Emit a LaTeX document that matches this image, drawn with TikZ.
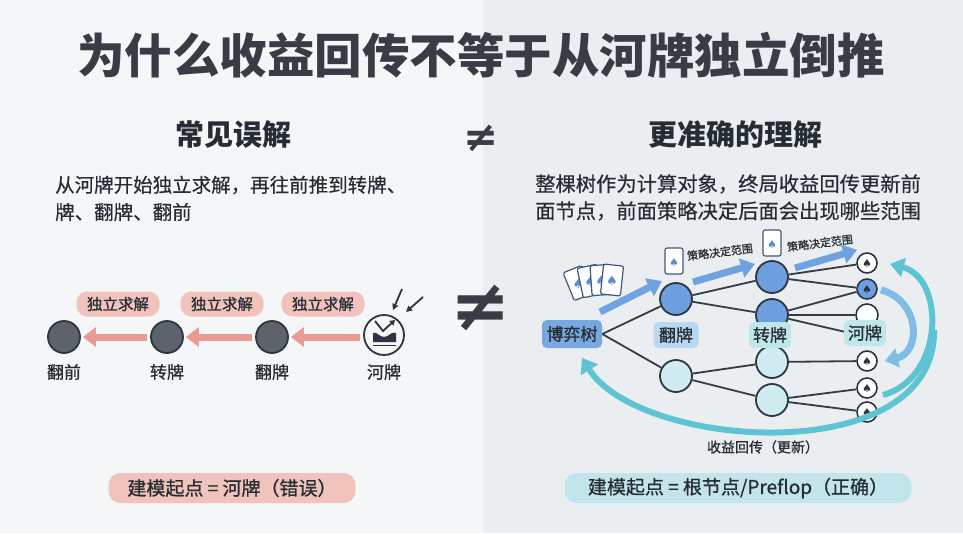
\documentclass[tikz,border=0pt]{standalone}
\usepackage{fontspec}
\setmainfont{Noto Sans CJK SC}
\newfontfamily\medf{Noto Sans CJK SC}[FakeBold=0.9]
\newfontfamily\descf{Noto Sans CJK SC}[FakeBold=0.4]
\newfontfamily\symf{DejaVu Sans}
\usetikzlibrary{arrows.meta}
\pgfdeclarelayer{bglayer}
\pgfdeclarelayer{edgelayer}
\pgfsetlayers{bglayer,edgelayer,main}
\definecolor{bgL}{HTML}{F4F6F8}
\definecolor{bgR}{HTML}{EBEEF1}
\definecolor{titlec}{HTML}{383D45}
\definecolor{textc}{HTML}{262C33}
\definecolor{salmon}{HTML}{E99A91}
\definecolor{pinkpill}{HTML}{F2C3BD}
\definecolor{darknode}{HTML}{5D626B}
\definecolor{nodeline}{HTML}{2C3540}
\definecolor{edgec}{HTML}{353B43}
\definecolor{bluenode}{HTML}{6C9FDD}
\definecolor{cyannode}{HTML}{CFEDF0}
\definecolor{rootc}{HTML}{77A8DF}
\definecolor{flopc}{HTML}{B9D7F1}
\definecolor{turnc}{HTML}{BFE7EA}
\definecolor{cyanpill}{HTML}{C2E5EC}
\definecolor{arrowblue}{HTML}{6FA3E0}
\definecolor{midblue}{HTML}{7FBCE6}
\definecolor{teal}{HTML}{5EC3D3}
\definecolor{cardline}{HTML}{3F5878}
\definecolor{spadeb}{HTML}{5B8FD0}
\tikzset{
  edge/.style={draw=edgec, line width=1.8pt},
  tnode/.style={circle, draw=nodeline, line width=1.8pt, minimum size=32pt, inner sep=0pt},
  dnode/.style={circle, draw=nodeline, line width=1.8pt, minimum size=32pt, inner sep=0pt, fill=darknode},
  rnode/.style={circle, draw=nodeline, line width=1.6pt, minimum size=20pt, inner sep=0pt, fill=white, text=nodeline, font=\symf\fontsize{11}{11}\selectfont},
  lbl/.style={rounded corners=5pt, inner xsep=4pt, inner ysep=3pt, font=\medf\fontsize{17}{17}\selectfont, text=textc},
  sublbl/.style={font=\medf\fontsize{17}{17}\selectfont, text=textc},
  solvepill/.style={fill=pinkpill, rounded corners=11pt, minimum width=83pt, minimum height=25pt, inner sep=0pt, font=\medf\fontsize{15.5}{15.5}\selectfont, text=textc},
  bottompill/.style={rounded corners=12pt, minimum height=30pt, inner sep=0pt, font=\medf\fontsize{19}{19}\selectfont, text=textc},
  salmonarrow/.style={draw=salmon, line width=7pt, -{Triangle[length=13pt,width=19pt]}},
  fatblue/.style={draw=arrowblue, line width=7pt, -{Triangle[length=14pt,width=19pt]}},
  desc/.style={anchor=west, font=\descf\fontsize{19.5}{19.5}\selectfont, text=textc, inner sep=0pt},
  card/.pic={
    \draw[fill=white, draw=cardline, line width=1.2pt, rounded corners=2pt] (-10,-15) rectangle (10,15);
    \node[text=spadeb, font=\symf\fontsize{13}{13}\selectfont] at (0,1) {♠};
  },
  smallcard/.pic={
    \draw[fill=white, draw=cardline, line width=1.1pt, rounded corners=2pt] (-9,-13) rectangle (9,13);
    \node[text=spadeb, font=\symf\fontsize{11}{11}\selectfont] at (0,1) {♠};
  }
}
\begin{document}
\begin{tikzpicture}[x=1pt,y=-1pt]
\useasboundingbox (0,0) rectangle (963,533);
\begin{pgfonlayer}{bglayer}
\fill[bgL] (0,0) rectangle (483,533);
\fill[bgR] (483,0) rectangle (963,533);
\end{pgfonlayer}

% title and headers
\node[text=titlec, font=\fontsize{47.5}{47.5}\selectfont\bfseries] (title) at (481,55) {为什么收益回传不等于从河牌独立倒推};
\node[text=textc, font=\fontsize{29}{29}\selectfont\bfseries] (hl) at (233,135) {常见误解};
\node[text=textc, font=\fontsize{29}{29}\selectfont\bfseries] (hr) at (735,135) {更准确的理解};
\node[text=titlec, font=\symf\bfseries\fontsize{42}{42}\selectfont] (ne1) at (481,138) {≠};
\node[text=titlec, font=\symf\bfseries\fontsize{72}{72}\selectfont] (ne2) at (481,308) {≠};

\node[desc] (dl1) at (55,185) {从河牌开始独立求解，再往前推到转牌、};
\node[desc] (dl2) at (55,212) {牌、翻牌、翻前};
\node[desc, font=\descf\fontsize{20.3}{20.3}\selectfont] (dr1) at (535,184) {整棵树作为计算对象，终局收益回传更新前};
\node[desc, font=\descf\fontsize{20.3}{20.3}\selectfont] (dr2) at (535,211) {面节点，前面策略决定后面会出现哪些范围};

% ---------- left chain ----------
\node[dnode] (c1) at (64,337) {};
\node[dnode] (c2) at (167,337) {};
\node[dnode] (c3) at (272,337) {};
\node[circle, draw=nodeline, line width=1.8pt, minimum size=40pt, inner sep=0pt, fill=bgL] (c4) at (384,335) {};
% river icon inside
\fill[nodeline] (373,342) -- (373,333) .. controls (377,331) and (379,337) .. (384,337) .. controls (389,337) and (391,331) .. (396,333) -- (396,342) -- cycle;
\draw[nodeline, line width=1.5pt] (373,345.5) -- (396,345.5);
\draw[nodeline, line width=1.8pt, -{Triangle[length=5pt,width=6pt]}] (375,321) -- (383,331) -- (395,320);
\coordinate (a1s) at (402,289);
\coordinate (a1e) at (393,310);
\coordinate (a2s) at (423,297);
\coordinate (a2e) at (406,312);
\draw[nodeline, line width=1.8pt, -{Triangle[length=6pt,width=6pt]}] (a1s) -- (a1e);
\draw[nodeline, line width=1.8pt, -{Triangle[length=6pt,width=6pt]}] (a2s) -- (a2e);

\draw[salmonarrow, shorten <=3pt, shorten >=2pt] (c4.west |- c3) -- (c3);
\draw[salmonarrow, shorten <=3pt, shorten >=2pt] (c3) -- (c2);
\draw[salmonarrow, shorten <=3pt, shorten >=2pt] (c2) -- (c1);

\node[solvepill] (p1) at (118,304) {独立求解};
\node[solvepill] (p2) at (222,304) {独立求解};
\node[solvepill] (p3) at (323,304) {独立求解};

\node[sublbl] (l1) at (64,372) {翻前};
\node[sublbl] (l2) at (167,372) {转牌};
\node[sublbl] (l3) at (272,372) {翻牌};
\node[sublbl] (l4) at (384,372) {河牌};

\node[bottompill, fill=pinkpill, minimum width=247pt] (bl) at (232,488) {建模起点 = 河牌（错误）};
\node[bottompill, fill=cyanpill, minimum width=347pt] (br) at (738,488) {建模起点 = 根节点/Preflop（正确）};

% ---------- right tree ----------
\node[tnode, fill=bluenode] (f1) at (676,299) {};
\node[tnode, fill=cyannode] (f2) at (676,376) {};
\node[tnode, fill=bluenode] (t1) at (772,277) {};
\node[tnode, fill=bluenode] (t2) at (772,315) {};
\node[tnode, fill=cyannode] (t3) at (772,362) {};
\node[tnode, fill=cyannode] (t4) at (772,400) {};
\node[rnode] (r1) at (867,263) {♠};
\node[rnode, fill=bluenode] (r2) at (867,289) {♠};
\node[rnode, minimum size=22pt] (r3) at (867,315) {};
\node[rnode] (r4) at (867,361) {♠};
\node[rnode] (r5) at (867,388) {♠};
\node[rnode] (r6) at (867,412) {♠};
\coordinate (hid) at (850,333);

\node[lbl, fill=rootc, minimum width=60pt, minimum height=28pt] (root) at (572,334) {博弈树};
\node[lbl, fill=flopc, minimum width=45pt, minimum height=26pt] (fl) at (676,335) {翻牌};
\node[lbl, fill=turnc, minimum width=41pt, minimum height=26pt] (tl) at (770,335) {转牌};
\node[lbl, fill=turnc, minimum width=41pt, minimum height=26pt] (rl) at (865,333) {河牌};

\begin{pgfonlayer}{edgelayer}
\draw[edge] (root.east) -- (f1);
\draw[edge] (root.east) -- (f2);
\draw[edge] (f1) -- (t1);
\draw[edge] (f1) -- (t2);
\draw[edge] (f2) -- (t3);
\draw[edge] (f2) -- (t4);
\draw[edge] (t1) -- (r1);
\draw[edge] (t1) -- (r2);
\draw[edge] (t2) -- (r2);
\draw[edge] (t2) -- (r3);
\draw[edge] (t2) -- (hid);
\draw[edge] (t3) -- (r4);
\draw[edge] (t4) -- (r5);
\draw[edge] (t4) -- (r6);
\end{pgfonlayer}

% cards
\pic[rotate=22] at (578,283) {card};
\pic[rotate=12] at (590,281) {card};
\pic[rotate=4] at (601,280) {card};
\pic[rotate=-6] at (612,280) {card};
\pic at (674,261) {smallcard};
\pic at (772,243) {smallcard};
\node[font=\medf\fontsize{11}{11}\selectfont, text=textc, rotate=7] (s1) at (720,252) {策略决定范围};
\node[font=\medf\fontsize{11}{11}\selectfont, text=textc, rotate=7] (s2) at (820,243) {策略决定范围};

% blue arrows
\coordinate (b1s) at (600,312); \coordinate (b1e) at (662,281);
\coordinate (b2s) at (693,282); \coordinate (b2e) at (755,264);
\coordinate (b3s) at (795,268); \coordinate (b3e) at (857,250);
\draw[fatblue] (b1s) -- (b1e);
\draw[fatblue] (b2s) -- (b2e);
\draw[fatblue] (b3s) -- (b3e);

% curved arrows
\draw[draw=midblue, line width=7pt, -{Triangle[length=13pt,width=19pt]}] (r2.east) ++(3,1) .. controls (920,300) and (922,352) .. (885,361);
\draw[draw=teal, line width=6pt, -{Triangle[length=14pt,width=19pt]}] (883,395) .. controls (945,378) and (945,278) .. (890,264);
\draw[draw=teal, line width=6pt, -{Triangle[length=14pt,width=20pt]}] (934,330) .. controls (936,470) and (640,450) .. (582,358);
\node[font=\medf\fontsize{14}{14}\selectfont, text=textc] (fb) at (763,447) {收益回传（更新）};
\end{tikzpicture}
\end{document}
